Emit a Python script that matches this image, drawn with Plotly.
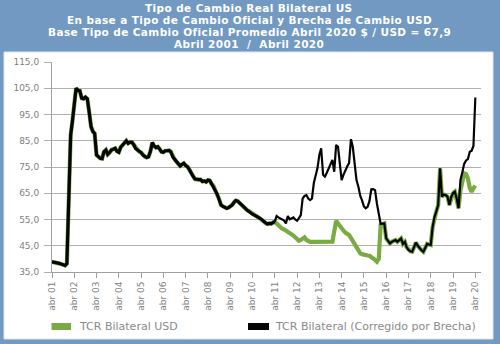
import pandas as pd
import plotly.graph_objects as go

# Monthly dates, April 2001 .. April 2020
dates = pd.date_range("2001-04-01", "2020-04-01", freq="MS")

# TCR Bilateral (Corregido por Brecha) - black
tcr_brecha = [
    38.9, 38.8, 38.7, 38.5, 38.3, 38.0, 37.8, 37.5, 38.2, 62.0, 87.2, 92.3,
    99.0, 105.0, 104.2, 104.0, 101.2, 101.0, 101.6, 101.0, 96.0, 90.4, 88.5, 87.8,
    79.6, 78.8, 78.3, 78.2, 80.8, 81.5, 79.8, 80.5, 81.5, 81.8, 82.1, 81.0,
    80.6, 82.5, 83.4, 84.0, 85.0, 84.0, 84.5, 84.4, 83.5, 82.0, 81.5, 80.8,
    80.5, 79.5, 78.9, 78.6, 78.9, 81.0, 84.3, 83.0, 82.4, 82.7, 81.8, 80.8,
    80.6, 81.2, 81.2, 81.3, 80.8, 78.9, 78.0, 77.0, 76.2, 75.4, 76.0, 76.4,
    75.6, 75.1, 74.0, 72.6, 71.4, 70.4, 70.3, 70.0, 70.2, 69.5, 69.7, 69.3,
    70.0, 69.8, 68.5, 67.8, 66.0, 64.5, 62.8, 60.5, 60.0, 59.5, 59.3, 59.5,
    59.9, 60.5, 61.5, 62.2, 62.0, 61.2, 60.5, 60.0, 59.3, 58.6, 58.2, 57.6,
    57.0, 56.8, 56.3, 55.9, 55.5, 55.0, 54.3, 53.6, 53.3, 53.5, 53.4, 53.8,
    54.2, 56.3, 55.8, 55.3, 55.1, 54.6, 53.5, 56.3, 55.1, 55.5, 55.8, 55.0,
    54.5, 55.5, 56.7, 63.0, 64.0, 64.3, 63.0, 62.4, 63.0, 69.0, 72.5, 74.5,
    79.6, 82.1, 72.0, 71.3, 72.8, 74.5, 76.5, 77.7, 73.2, 83.4, 82.7, 76.0,
    70.0, 72.0, 73.9, 75.2, 76.5, 85.6, 82.7, 75.0, 70.0, 67.5, 64.0, 62.4,
    60.0, 59.3, 59.8, 62.0, 66.5, 66.6, 66.2, 61.0, 57.4, 53.3, 53.4, 53.5,
    47.8, 47.0, 45.9, 46.5, 46.8, 47.2, 46.5, 47.2, 47.8, 45.7, 46.5, 44.5,
    43.4, 42.9, 42.7, 44.5, 46.2, 45.0, 44.0, 43.3, 42.7, 44.5, 45.7, 45.5,
    45.3, 52.0, 56.0, 58.0, 60.5, 74.5, 63.7, 64.5, 64.3, 63.7, 60.5, 63.5,
    65.0, 65.6, 63.0, 59.3, 70.0, 73.0, 76.2, 77.5, 78.0, 80.8, 81.2, 83.0,
    101.5,
]

# TCR Bilateral USD - green
tcr_usd = [
    38.9, 38.8, 38.7, 38.5, 38.3, 38.0, 37.8, 37.5, 38.2, 62.0, 87.2, 92.3,
    99.0, 105.0, 104.2, 104.0, 101.2, 101.0, 101.6, 101.0, 96.0, 90.4, 88.5, 87.8,
    79.6, 78.8, 78.3, 78.2, 80.8, 81.5, 79.8, 80.5, 81.5, 81.8, 82.1, 81.0,
    80.6, 82.5, 83.4, 84.0, 85.0, 84.0, 84.5, 84.4, 83.5, 82.0, 81.5, 80.8,
    80.5, 79.5, 78.9, 78.6, 78.9, 81.0, 84.3, 83.0, 82.4, 82.7, 81.8, 80.8,
    80.6, 81.2, 81.2, 81.3, 80.8, 78.9, 78.0, 77.0, 76.2, 75.4, 76.0, 76.4,
    75.6, 75.1, 74.0, 72.6, 71.4, 70.4, 70.3, 70.0, 70.2, 69.5, 69.7, 69.3,
    70.0, 69.8, 68.5, 67.8, 66.0, 64.5, 62.8, 60.5, 60.0, 59.5, 59.3, 59.5,
    59.9, 60.5, 61.5, 62.2, 62.0, 61.2, 60.5, 60.0, 59.3, 58.6, 58.2, 57.6,
    57.0, 56.8, 56.3, 55.9, 55.5, 55.0, 54.3, 53.6, 53.3, 53.5, 53.4, 53.8,
    54.2, 53.5, 52.8, 51.8, 51.5, 51.2, 50.8, 50.4, 50.0, 49.4, 48.9, 48.2,
    47.6, 46.9, 47.2, 47.8, 48.2, 47.2, 46.6, 46.5, 46.5, 46.5, 46.6, 46.6,
    46.6, 46.7, 46.7, 46.7, 46.8, 46.8, 46.8, 46.6, 50.5, 54.5, 53.5, 52.5,
    51.6, 50.8, 50.0, 49.5, 49.1, 48.0, 46.8, 45.9, 44.2, 42.8, 42.1, 41.8,
    41.5, 41.4, 41.3, 41.2, 40.8, 40.2, 39.6, 38.9, 40.0, 52.9, 53.4, 53.5,
    47.8, 47.0, 45.9, 46.5, 46.8, 47.2, 46.5, 47.2, 47.8, 45.7, 46.5, 44.5,
    43.4, 42.9, 42.7, 44.5, 46.2, 45.0, 44.0, 43.3, 42.7, 44.5, 45.7, 45.5,
    45.3, 52.0, 56.0, 58.0, 60.5, 74.5, 63.7, 64.5, 64.3, 63.7, 60.5, 63.5,
    65.0, 65.6, 63.0, 59.3, 66.0, 70.0, 72.6, 72.3, 70.7, 67.0, 65.6, 66.9,
    67.9,
]

tick_dates = pd.date_range("2001-04-01", "2020-04-01", freq="12MS")
tick_labels = ["abr %02d" % (d.year % 100) for d in tick_dates]
y_ticks = [35, 45, 55, 65, 75, 85, 95, 105, 115]

title_lines = [
    "Tipo de Cambio Real Bilateral US",
    "En base a Tipo de Cambio Oficial y Brecha de Cambio USD",
    "Base Tipo de Cambio Oficial Promedio Abril 2020 $ / USD = 67,9",
    "Abril 2001  /  Abril 2020",
]
legend_names = ["TCR Bilateral USD", "TCR Bilateral (Corregido por Brecha)"]

GREEN = "#7aab43"
BLACK = "#050505"
BG = "#7299c2"
FONT = "DejaVu Sans"

split = 120  # black line drawn thicker before this point (as in reference)

fig = go.Figure()
fig.add_trace(go.Scatter(x=dates, y=tcr_usd, mode="lines", name=legend_names[0],
                         line=dict(color=GREEN, width=4.2), showlegend=False))
fig.add_trace(go.Scatter(x=dates[:split + 1], y=tcr_brecha[:split + 1], mode="lines",
                         name=legend_names[1], line=dict(color=BLACK, width=3.2),
                         showlegend=False))
fig.add_trace(go.Scatter(x=dates[split:], y=tcr_brecha[split:], mode="lines",
                         name=legend_names[1], line=dict(color=BLACK, width=2.2),
                         showlegend=False))

L, R, T, B = 52, 481, 62, 272
W, H = 500, 344
pw, ph = R - L, B - T


def px(x):
    return (x - L) / pw


def py(y):
    return (B - y) / ph


shapes = [
    dict(type="rect", xref="paper", yref="paper", x0=px(4), x1=px(493), y0=py(339), y1=py(52),
         fillcolor="white", line=dict(color="#dfe6ee", width=1), layer="below"),
    dict(type="rect", xref="paper", yref="paper", x0=px(51.5), x1=px(71), y0=py(330), y1=py(323),
         fillcolor=GREEN, line=dict(width=0)),
    dict(type="rect", xref="paper", yref="paper", x0=px(248), x1=px(269), y0=py(330), y1=py(323),
         fillcolor=BLACK, line=dict(width=0)),
]

annotations = []
for i, (txt, yy) in enumerate(zip(title_lines, [8.0, 20.0, 32.0, 44.0])):
    annotations.append(dict(text='<span style="letter-spacing:0.4px">%s</span>' % txt,
                            xref="paper", yref="paper", x=px(249), y=py(yy),
                            xanchor="center", yanchor="middle", showarrow=False,
                            font=dict(family=FONT, size=10.5, color="white", weight="bold")))
annotations.append(dict(text=legend_names[0], xref="paper", yref="paper", x=px(77), y=py(326.5),
                        xanchor="left", yanchor="middle", showarrow=False,
                        font=dict(family=FONT, size=11, color="#8a8a8a")))
annotations.append(dict(text=legend_names[1], xref="paper", yref="paper", x=px(273), y=py(326.5),
                        xanchor="left", yanchor="middle", showarrow=False,
                        font=dict(family=FONT, size=11, color="#8a8a8a")))

fig.update_layout(
    width=W, height=H,
    margin=dict(l=L, r=W - R, t=T, b=H - B, pad=0),
    paper_bgcolor=BG, plot_bgcolor="white",
    separators=",.",
    font=dict(family=FONT, color="#707070"),
    shapes=shapes, annotations=annotations,
    showlegend=False,
    xaxis=dict(
        type="date", range=["2001-04-01", "2020-07-03"],
        tickmode="array", tickvals=tick_dates, ticktext=tick_labels, tickangle=-90,
        ticks="outside", ticklen=5, tickcolor="#a0a0a0",
        showgrid=False, showline=True, linecolor="#a0a0a0", linewidth=1,
        tickfont=dict(size=9, color="#808080"), zeroline=False,
    ),
    yaxis=dict(
        range=[35, 115], tickmode="array", tickvals=y_ticks, tickformat=".1f",
        ticks="outside", ticklen=7, tickcolor="#b0b0b0", ticklabelstandoff=3,
        showgrid=True, gridcolor="#b0b0b0", gridwidth=1,
        showline=True, linecolor="#a0a0a0", linewidth=1,
        tickfont=dict(size=9, color="#808080"), zeroline=False,
    ),
)

fig.write_html("out.html")
